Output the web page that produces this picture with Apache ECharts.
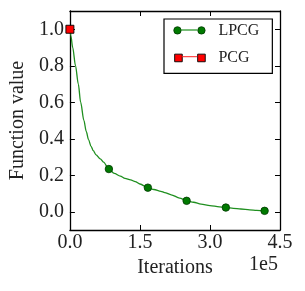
<!DOCTYPE html>
<html>
<head>
<meta charset="utf-8">
<script src="https://cdn.jsdelivr.net/npm/echarts@6/dist/echarts.min.js"></script>
<style>html,body{margin:0;padding:0;background:#fff}#c{width:305px;height:291px}</style>
</head>
<body>
<div id="c"></div>
<script>
// LPCG curve (iterations, function value)
const lpcgX = [0, 2000, 6000, 12000, 18000, 23000, 30000, 35000, 40000, 45000, 50000, 56000, 65000, 72000, 83500, 95000, 108000, 118000, 130000, 140000, 150000, 167000, 180000, 195000, 203000, 217000, 235000, 250000, 265000, 281000, 300000, 320000, 334000, 350000, 366000, 385000, 400000, 417000];
const lpcgY = [1.0, 0.965, 0.9, 0.8, 0.7, 0.6, 0.5, 0.44, 0.395, 0.36, 0.335, 0.312, 0.29, 0.272, 0.234, 0.21, 0.195, 0.183, 0.175, 0.165, 0.152, 0.132, 0.122, 0.112, 0.105, 0.093, 0.075, 0.06, 0.052, 0.042, 0.034, 0.027, 0.023, 0.019, 0.015, 0.01, 0.007, 0.005];
// x values at which LPCG markers are drawn
const lpcgMarkerX = [83500, 167000, 250000, 334000, 417000];
// PCG
const pcgX = [0];
const pcgY = [1.0];
// axis ticks
const xTicks = [0, 150000, 300000, 450000];
const yTicks = [0.0, 0.2, 0.4, 0.6, 0.8, 1.0];

const FONT = '"Liberation Serif", "Times New Roman", serif';
const chart = echarts.init(document.getElementById('c'), null, {renderer: 'canvas'});

const lpcgData = lpcgX.map((x, i) => ({
  value: [x, lpcgY[i]],
  symbol: lpcgMarkerX.includes(x) ? 'circle' : 'none'
}));
const pcgData = pcgX.map((x, i) => [x, pcgY[i]]);

const ext = 'M0,0L0,0M40,16L40,16';
const circ = (cx) => `M${cx - 3.7},8A3.7,3.7,0,1,1,${cx + 3.7},8A3.7,3.7,0,1,1,${cx - 3.7},8Z`;
const sq = (cx) => `M${cx - 3.8},4.2H${cx + 3.8}V11.8H${cx - 3.8}Z`;
const markIconL = 'path://' + ext + circ(4) + circ(28);
const markIconP = 'path://' + ext + sq(5) + sq(28);
const lineIconL = 'path://' + ext + 'M7.7,7.4H24.3V8.6H7.7Z';
const lineIconP = 'path://' + ext + 'M8.8,7.5H24.2V8.5H8.8Z';

const axisLineStyle = {color: '#000', width: 1.3};
const legendCommon = {
  orient: 'vertical', left: 164, top: 19, padding: [3, 13, 7, 9],
  itemWidth: 40, itemHeight: 16, itemGap: 10.7, symbolKeepAspect: true,
  selectedMode: false,
  textStyle: {fontFamily: FONT, fontSize: 16, color: '#222'}
};

chart.setOption({
  animation: false,
  grid: {left: 67.5, right: 25, top: 11, bottom: 61},
  xAxis: [{
    type: 'value', position: 'bottom', min: 0, max: 450000, interval: 150000,
    axisLine: {show: true, onZero: false, lineStyle: axisLineStyle},
    axisTick: {show: true, inside: true, length: 5, lineStyle: {color: '#000', width: 1}},
    axisLabel: {margin: 3, fontFamily: FONT, fontSize: 20, color: '#222',
      formatter: v => (v / 1e5).toFixed(1)},
    splitLine: {show: false},
    name: 'Iterations', nameLocation: 'middle', nameGap: 26,
    nameTextStyle: {fontFamily: FONT, fontSize: 20, color: '#222'}
  }, {
    type: 'value', position: 'top', min: 0, max: 450000, interval: 150000,
    axisLine: {show: true, onZero: false, lineStyle: axisLineStyle},
    axisTick: {show: true, inside: true, length: 5, lineStyle: {color: '#000', width: 1}},
    axisLabel: {show: false}, splitLine: {show: false}
  }],
  yAxis: [{
    type: 'value', position: 'left', min: -0.1, max: 1.1,
    axisLine: {show: true, onZero: false, lineStyle: axisLineStyle},
    axisTick: {show: true, inside: true, length: 5, customValues: yTicks, lineStyle: {color: '#000', width: 1}},
    axisLabel: {margin: 6, fontFamily: FONT, fontSize: 20, color: '#222', customValues: yTicks,
      formatter: v => v.toFixed(1)},
    splitLine: {show: false},
    name: 'Function value', nameLocation: 'middle', nameGap: 41, nameRotate: 90,
    nameTextStyle: {fontFamily: FONT, fontSize: 20, color: '#222'}
  }, {
    type: 'value', position: 'right', min: -0.1, max: 1.1,
    axisLine: {show: true, onZero: false, lineStyle: axisLineStyle},
    axisTick: {show: true, inside: true, length: 5, customValues: yTicks, lineStyle: {color: '#000', width: 1}},
    axisLabel: {show: false}, splitLine: {show: false}
  }],
  legend: [
    Object.assign({}, legendCommon, {
      z: 4,
      backgroundColor: '#fff', borderColor: '#000', borderWidth: 1.2, borderRadius: 0,
      data: [
        {name: 'LPCG', icon: markIconL, itemStyle: {color: '#007a00', borderColor: '#003800', borderWidth: 0.8}},
        {name: 'PCG', icon: markIconP, itemStyle: {color: '#ff0000', borderColor: '#000', borderWidth: 0.9}}
      ]
    }),
    Object.assign({}, legendCommon, {
      z: 5,
      formatter: () => '',
      data: [
        {name: 'LPCG', icon: lineIconL, itemStyle: {color: '#1f8f1f', borderWidth: 0}},
        {name: 'PCG', icon: lineIconP, itemStyle: {color: '#ff2020', borderWidth: 0}}
      ]
    })
  ],
  graphic: [{
    type: 'text', right: 27, top: 255,
    style: {text: '1e5', font: '20px ' + FONT, fill: '#222'}
  }],
  series: [{
    name: 'LPCG', type: 'line', xAxisIndex: 0, yAxisIndex: 0,
    data: lpcgData, smooth: 0.3, smoothMonotone: 'x',
    symbol: 'circle', symbolSize: 7.5, showSymbol: true, showAllSymbol: true,
    lineStyle: {color: '#1f8f1f', width: 1.3},
    itemStyle: {color: '#007a00', borderColor: '#003800', borderWidth: 0.8},
    emphasis: {disabled: true}, z: 2
  }, {
    name: 'PCG', type: 'line', xAxisIndex: 0, yAxisIndex: 0,
    data: pcgData, symbol: 'rect', symbolSize: 8, showSymbol: true,
    lineStyle: {color: '#ff0000', width: 1},
    itemStyle: {color: '#ff0000', borderColor: '#000', borderWidth: 0.9},
    emphasis: {disabled: true}, z: 3
  }]
});
</script>
</body>
</html>
